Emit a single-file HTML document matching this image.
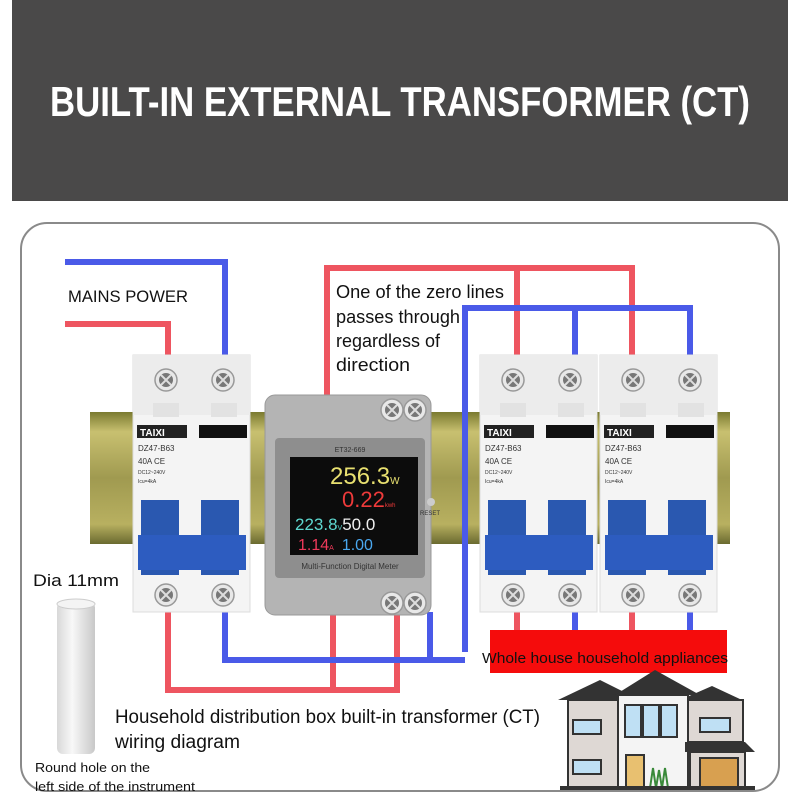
<!DOCTYPE html>
<html><head><meta charset="utf-8"><style>html,body{margin:0;padding:0;background:#fff}svg{display:block}</style></head>
<body>
<svg width="800" height="800" viewBox="0 0 800 800" xmlns="http://www.w3.org/2000/svg" font-family="Liberation Sans, sans-serif">
<defs>
<linearGradient id="rail" x1="0" y1="0" x2="0" y2="1">
<stop offset="0" stop-color="#7a7a30"/><stop offset="0.15" stop-color="#c8c070"/><stop offset="0.5" stop-color="#a09a50"/><stop offset="0.85" stop-color="#b8b060"/><stop offset="1" stop-color="#6a6a30"/></linearGradient>
<linearGradient id="cyl" x1="0" y1="0" x2="1" y2="0"><stop offset="0" stop-color="#d8d8d8"/><stop offset="0.4" stop-color="#f8f8f8"/><stop offset="1" stop-color="#c8c8c8"/></linearGradient>
<g id="screw"><circle r="11" fill="#e8e8e8" stroke="#999" stroke-width="1.5"/><circle r="7" fill="#777"/><path d="M-5 -5L5 5M5 -5L-5 5" stroke="#ddd" stroke-width="2"/></g>
<g id="brk">
<rect x="0" y="0" width="117" height="257" fill="#f4f4f4" stroke="#ddd"/>
<rect x="0" y="0" width="117" height="60" fill="#ececec"/>
<use href="#screw" x="33" y="25"/><use href="#screw" x="90" y="25"/>
<rect x="20" y="48" width="26" height="14" fill="#e2e2e2"/><rect x="78" y="48" width="26" height="14" fill="#e2e2e2"/>
<rect x="4" y="70" width="50" height="13" fill="#222"/><text x="7" y="81" font-size="10" font-weight="bold" fill="#fff">TAIXI</text>
<rect x="66" y="70" width="48" height="13" fill="#111"/>
<text x="5" y="96" font-size="8" fill="#333">DZ47-B63</text>
<text x="5" y="109" font-size="8" fill="#333">40A    CE</text>
<text x="5" y="119" font-size="5" fill="#333">DC12~240V</text>
<text x="5" y="128" font-size="5" fill="#333">Icu=4kA</text>
<rect x="8" y="145" width="38" height="75" fill="#2a58b0"/><rect x="68" y="145" width="38" height="75" fill="#2a58b0"/>
<rect x="5" y="180" width="108" height="35" fill="#2d5cc0"/>
<use href="#screw" x="33" y="240"/><use href="#screw" x="90" y="240"/>
</g>
</defs>
<rect x="12" y="0" width="776" height="201" fill="#4a4949"/>
<text x="400" y="116" text-anchor="middle" font-size="42" font-weight="bold" fill="#fff" textLength="700" lengthAdjust="spacingAndGlyphs">BUILT-IN EXTERNAL TRANSFORMER (CT)</text>
<rect x="21" y="223" width="758" height="568" rx="26" fill="#fff" stroke="#8a8a8a" stroke-width="2"/>
<rect x="90" y="412" width="640" height="132" fill="url(#rail)"/>
<g fill="none" stroke-width="6" stroke-linejoin="miter">
<path d="M65 262H225V360" stroke="#4a5ae8"/>
<path d="M65 324H168V360" stroke="#ee5560"/>
<path d="M327 400V268H632V360M517 268V360" stroke="#ee5560"/>
<path d="M465 652V308H690V360M575 308V360" stroke="#4a5ae8"/>
<path d="M168 612V690H397V612M333 612V690" stroke="#ee5560"/>
<path d="M225 612V660H465M430 612V660" stroke="#4a5ae8"/>
<path d="M517 612V632M632 612V632" stroke="#ee5560"/>
<path d="M575 612V632M690 612V632" stroke="#4a5ae8"/>
</g>
<use href="#brk" x="133" y="355"/>
<use href="#brk" x="480" y="355"/>
<use href="#brk" x="600" y="355"/>
<rect x="265" y="395" width="166" height="220" rx="10" fill="#b4b4b4" stroke="#999"/>
<use href="#screw" x="392" y="410"/><use href="#screw" x="415" y="410"/>
<rect x="275" y="438" width="150" height="140" rx="4" fill="#8e8e8e"/>
<text x="350" y="452" text-anchor="middle" font-size="7" fill="#333">ET32-669</text>
<rect x="290" y="457" width="128" height="98" fill="#0c0c0c"/>
<text x="330" y="484" font-size="24" fill="#e8e070">256.3<tspan font-size="10">W</tspan></text>
<text x="342" y="507" font-size="22" fill="#ee3a3a">0.22<tspan font-size="6">kwh</tspan></text>
<text x="295" y="530" font-size="17" fill="#5ed8d0">223.8<tspan font-size="7">V</tspan><tspan fill="#f0f0f0">50.0</tspan></text>
<text x="298" y="550" font-size="16" fill="#ee3a5a">1.14<tspan font-size="7">A</tspan><tspan fill="#4aa8f0" dx="8">1.00</tspan></text>
<circle cx="431" cy="502" r="4" fill="#ccc"/><text x="420" y="515" font-size="6" fill="#333">RESET</text>
<text x="350" y="569" text-anchor="middle" font-size="8" fill="#333">Multi-Function Digital Meter</text>
<use href="#screw" x="392" y="603"/><use href="#screw" x="415" y="603"/>
<text x="68" y="302" font-size="17" fill="#111" textLength="120" lengthAdjust="spacingAndGlyphs">MAINS POWER</text>
<g font-size="18" fill="#111">
<text x="336" y="298" textLength="168" lengthAdjust="spacingAndGlyphs">One of the zero lines</text>
<text x="336" y="323" textLength="124" lengthAdjust="spacingAndGlyphs">passes through</text>
<text x="336" y="347" textLength="104" lengthAdjust="spacingAndGlyphs">regardless of</text>
<text x="336" y="371" textLength="74" lengthAdjust="spacingAndGlyphs">direction</text>
</g>
<rect x="490" y="630" width="237" height="43" fill="#f50c0c"/>
<text x="482" y="663" font-size="15" fill="#111" textLength="246" lengthAdjust="spacingAndGlyphs">Whole house household appliances</text>
<text x="33" y="586" font-size="17" fill="#111" textLength="86" lengthAdjust="spacingAndGlyphs">Dia 11mm</text>
<rect x="57" y="602" width="38" height="152" rx="6" fill="url(#cyl)"/>
<ellipse cx="76" cy="604" rx="19" ry="5" fill="#f4f4f4" stroke="#ccc"/>
<text x="115" y="723" font-size="19" fill="#111" textLength="425" lengthAdjust="spacingAndGlyphs">Household distribution box built-in transformer (CT)</text>
<text x="115" y="748" font-size="19" fill="#111" textLength="125" lengthAdjust="spacingAndGlyphs">wiring diagram</text>
<text x="35" y="772" font-size="13" fill="#111" textLength="115" lengthAdjust="spacingAndGlyphs">Round hole on the</text>
<text x="35" y="791" font-size="13" fill="#111" textLength="160" lengthAdjust="spacingAndGlyphs">left side of the instrument</text>
<g>
<polygon points="558,700 600,680 640,700" fill="#333"/>
<polygon points="615,695 655,670 700,695" fill="#333"/>
<polygon points="680,700 712,686 742,700" fill="#333"/>
<rect x="568" y="700" width="50" height="88" fill="#ded8d4" stroke="#333" stroke-width="2"/>
<rect x="618" y="695" width="70" height="93" fill="#f4f4f4" stroke="#333" stroke-width="2"/>
<rect x="688" y="700" width="55" height="42" fill="#ded8d4" stroke="#333" stroke-width="2"/>
<polygon points="685,742 745,742 755,752 685,752" fill="#333"/>
<rect x="690" y="752" width="55" height="36" fill="#ded8d4" stroke="#333" stroke-width="2"/>
<rect x="573" y="720" width="28" height="14" fill="#bfe0f4" stroke="#333" stroke-width="2"/>
<rect x="573" y="760" width="28" height="14" fill="#bfe0f4" stroke="#333" stroke-width="2"/>
<rect x="625" y="705" width="16" height="32" fill="#bfe0f4" stroke="#333" stroke-width="2"/>
<rect x="643" y="705" width="16" height="32" fill="#bfe0f4" stroke="#333" stroke-width="2"/>
<rect x="661" y="705" width="16" height="32" fill="#bfe0f4" stroke="#333" stroke-width="2"/>
<rect x="700" y="718" width="30" height="14" fill="#bfe0f4" stroke="#333" stroke-width="2"/>
<rect x="626" y="755" width="18" height="33" fill="#e8c070" stroke="#333" stroke-width="2"/>
<path d="M650 788l3-20 3 20 3-18 3 18 3-20 3 20" stroke="#3a8a3a" stroke-width="2" fill="none"/>
<rect x="700" y="758" width="38" height="30" fill="#d8a050" stroke="#333" stroke-width="2"/>
<rect x="560" y="786" width="195" height="4" fill="#333"/>
</g>
</svg>
</body></html>
